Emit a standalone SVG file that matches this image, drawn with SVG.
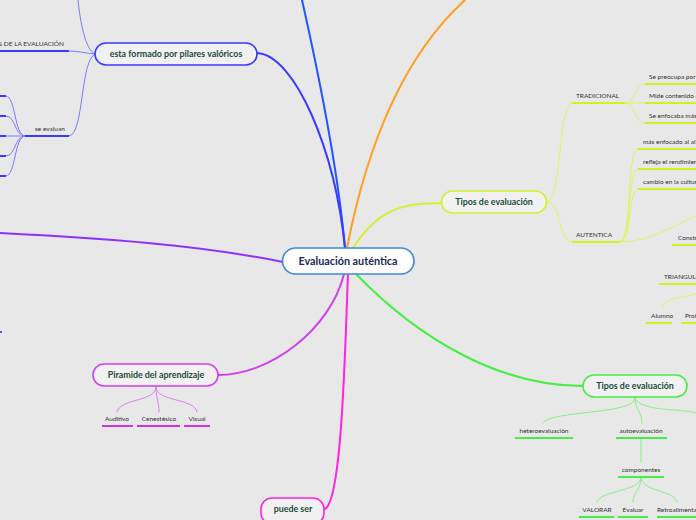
<svg xmlns="http://www.w3.org/2000/svg" width="696" height="520" viewBox="0 0 696 520">
<style>
.node{stroke-width:1.6}
.nt{font-family:Lato,"Open Sans",sans-serif;font-weight:bold;font-size:8.9px;fill:#1d4a3c;text-anchor:middle}
.lt{font-family:Lato,"Open Sans",sans-serif;font-size:6.5px;fill:#333}
.c{fill:none;stroke-linecap:round}
.main{stroke-width:2}
.sub{stroke-width:1}
.ul{stroke-width:2;fill:none}
</style>
<rect width="696" height="520" fill="#e8e8e8"/>
<g id="connectors">
  <path class="c main" d="M345,248 C338,170 320,80 302,0" stroke="#2255ff"/>
  <path class="c main" d="M345,248 C335,150 295,55 257,53" stroke="#3a3aff"/>
  <path class="c main" d="M347,248 C370,130 410,50 465,0" stroke="#ffa020"/>
  <path class="c main" d="M353,248 C380,205 410,203 441,203" stroke="#d4f030"/>
  <path class="c main" d="M283,262 C200,245 100,238 0,233" stroke="#9030ff"/>
  <path class="c main" d="M344,274 C330,330 270,375 218,375" stroke="#d040f0"/>
  <path class="c main" d="M348,274 C345,350 342,500 325,509" stroke="#ff22e0"/>
  <path class="c main" d="M356,274 C420,340 500,386 583,386" stroke="#44ee44"/>
  <g stroke="#7b7bff" class="c sub">
    <path d="M95,54 C85,50 80,20 78,0"/>
    <path d="M95,54 C85,53 78,51 69,51"/>
    <path d="M95,54 C80,60 84,136 69,136"/>
    <path d="M25,136 C14,136 16,96 6,96"/>
    <path d="M25,136 C14,136 16,116 6,116"/>
    <path d="M25,136 L6,136"/>
    <path d="M25,136 C14,136 16,156 6,156"/>
    <path d="M25,136 C14,136 16,176 6,176"/>
  </g>
  <g stroke="#3a3aff" class="ul">
    <path d="M0,51 H69"/><path d="M25,136 H69"/>
    <path d="M0,96 H6"/><path d="M0,116 H6"/><path d="M0,136 H6"/><path d="M0,156 H6"/><path d="M0,176 H6"/>
  </g>
  <path d="M0,332 H2" stroke="#9030ff" class="ul"/>
  <g stroke="#ddf560" class="c sub">
    <path d="M547,202 C562,202 558,103 572,103"/>
    <path d="M547,202 C562,202 558,242 572,242"/>
    <path d="M625,103 C636,103 634,84 645,84"/>
    <path d="M625,103 L645,103"/>
    <path d="M625,103 C636,103 634,123 645,123"/>
    <path d="M620,242 C632,242 626,149 638,149"/>
    <path d="M620,242 C632,242 627,169 638,169"/>
    <path d="M620,242 C632,242 628,189 638,189"/>
    <path d="M620,242 C650,242 675,225 696,216"/>
    <path d="M662,308 C664,298 680,298 696,294"/>
  </g>
  <g stroke="#d4f020" class="ul">
    <path d="M572,103 H625"/><path d="M572,242 H620"/>
    <path d="M645,84 H696"/><path d="M645,103 H696"/><path d="M645,123 H696"/>
    <path d="M638,149 H696"/><path d="M638,169 H696"/><path d="M638,189 H696"/>
    <path d="M672,245 H696"/><path d="M659,284 H696"/>
    <path d="M646,323 H672"/><path d="M681,323 H696"/>
  </g>
  <g stroke="#88f088" class="c sub">
    <path d="M635,398 C635,415 550,410 543,423"/>
    <path d="M635,398 C635,410 642,412 642,423"/>
    <path d="M635,398 C640,412 680,408 696,413"/>
    <path d="M641,438 L641,462"/>
    <path d="M641,477 C641,492 600,490 597,502"/>
    <path d="M641,477 C641,490 633,492 633,502"/>
    <path d="M641,477 C641,492 675,490 677,502"/>
  </g>
  <g stroke="#44ee44" class="ul">
    <path d="M515,438 H573"/><path d="M616,438 H667"/><path d="M618,477 H664"/>
    <path d="M579,517 H614"/><path d="M618,517 H648"/><path d="M657,517 H696"/>
  </g>
  <g stroke="#e080f0" class="c sub">
    <path d="M156,387 C156,402 120,398 117,412"/>
    <path d="M156,387 C156,398 159,402 159,412"/>
    <path d="M156,387 C156,402 195,398 197,412"/>
  </g>
  <g stroke="#d030e8" class="ul">
    <path d="M102,426 H133"/><path d="M137,426 H180"/><path d="M184,426 H210"/>
  </g>
</g>
<g id="central">
  <rect x="282.5" y="248" width="131.5" height="26" rx="13" fill="#ffffff" stroke="#3a8ad8" class="node"/>
  <text x="348" y="265" class="nt" style="font-size:10.8px;fill:#1a2a55">Evaluación auténtica</text>
</g>
<g id="pilares">
  <rect x="95" y="43" width="162" height="22" rx="11" fill="#f1f1f1" stroke="#3a3aff" class="node"/>
  <text x="176" y="57" class="nt">esta formado por pilares valóricos</text>
</g>
<g id="tipos1">
  <rect x="441.5" y="191" width="105" height="22" rx="11" fill="#f1f1f1" stroke="#d4f030" class="node"/>
  <text x="494" y="205" class="nt">Tipos de evaluación</text>
</g>
<g id="piramide">
  <rect x="93" y="364" width="125" height="22" rx="11" fill="#f1f1f1" stroke="#d040f0" class="node"/>
  <text x="156" y="378" class="nt">Piramide del aprendizaje</text>
</g>
<g id="tipos2">
  <rect x="583" y="375" width="104" height="22" rx="11" fill="#f1f1f1" stroke="#44ee44" class="node"/>
  <text x="635" y="389" class="nt">Tipos de evaluación</text>
</g>
<g id="puede">
  <rect x="261" y="498" width="63" height="26" rx="11" fill="#f1f1f1" stroke="#ff22e0" class="node"/>
  <text x="293" y="512" class="nt">puede ser</text>
</g>
<g id="labels">
  <text x="64" y="46" class="lt" text-anchor="end">OS DE LA EVALUACIÓN</text>
  <text x="35" y="131" class="lt">se evaluan</text>
  <text x="576" y="98" class="lt">TRADICIONAL</text>
  <text x="649" y="79" class="lt">Se preocupa por</text>
  <text x="649" y="98" class="lt">Mide contenido c</text>
  <text x="649" y="118" class="lt">Se enfocaba más</text>
  <text x="576" y="237" class="lt">AUTENTICA</text>
  <text x="643" y="144" class="lt">más enfocado al al</text>
  <text x="643" y="164" class="lt">refleja el rendimien</text>
  <text x="643" y="184" class="lt">cambio en la cultur</text>
  <text x="678" y="240" class="lt">Constr</text>
  <text x="664" y="279" class="lt">TRIANGULO</text>
  <text x="651" y="318" class="lt">Alumno</text>
  <text x="685" y="318" class="lt">Prof</text>
  <text x="544" y="433" class="lt" text-anchor="middle">heteroevaluación</text>
  <text x="641" y="433" class="lt" text-anchor="middle">autoevaluación</text>
  <text x="641" y="472" class="lt" text-anchor="middle">componentes</text>
  <text x="597" y="512" class="lt" text-anchor="middle">VALORAR</text>
  <text x="633" y="512" class="lt" text-anchor="middle">Evaluar</text>
  <text x="657" y="512" class="lt">Retroalimenta</text>
  <text x="117" y="421" class="lt" text-anchor="middle">Auditivo</text>
  <text x="159" y="421" class="lt" text-anchor="middle">Cenestésico</text>
  <text x="197" y="421" class="lt" text-anchor="middle">Visual</text>
</g>
</svg>
